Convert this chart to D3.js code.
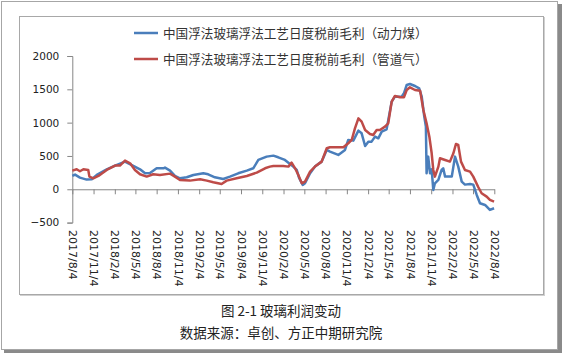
<!DOCTYPE html>
<html><head><meta charset="utf-8">
<script src="https://cdn.jsdelivr.net/npm/d3@7"></script>
<style>html,body{margin:0;padding:0;background:#fff;}svg{display:block;}</style>
</head><body>
<svg id="c" width="563" height="355"></svg>
<script>
const seriesNames = ["中国浮法玻璃浮法工艺日度税前毛利（动力煤）", "中国浮法玻璃浮法工艺日度税前毛利（管道气）"];
const yTicks = [-500, 0, 500, 1000, 1500, 2000];
const xTickLabels = ["2017/8/4","2017/11/4","2018/2/4","2018/5/4","2018/8/4","2018/11/4","2019/2/4","2019/5/4","2019/8/4","2019/11/4","2020/2/4","2020/5/4","2020/8/4","2020/11/4","2021/2/4","2021/5/4","2021/8/4","2021/11/4","2022/2/4","2022/5/4","2022/8/4"];
const captionTitle = "图 2-1 玻璃利润变动";
const captionSource = "数据来源：卓创、方正中期研究院";

// 动力煤 (blue)
const coalDates = ["2017-08-04","2017-08-16","2017-09-06","2017-10-05","2017-10-27","2017-11-18","2017-12-31","2018-02-05","2018-03-20","2018-04-25","2018-05-24","2018-06-15","2018-07-06","2018-08-04","2018-09-02","2018-09-09","2018-10-01","2018-10-22","2018-11-13","2018-12-12","2019-01-10","2019-02-22","2019-03-15","2019-04-13","2019-05-19","2019-06-17","2019-07-23","2019-08-29","2019-09-26","2019-10-18","2019-11-23","2019-12-22","2020-01-12","2020-02-10","2020-03-03","2020-03-17","2020-04-01","2020-04-12","2020-04-27","2020-05-07","2020-05-29","2020-06-19","2020-07-18","2020-08-09","2020-08-23","2020-09-28","2020-10-27","2020-11-10","2020-12-02","2020-12-24","2021-01-07","2021-01-22","2021-02-05","2021-02-19","2021-03-06","2021-03-20","2021-04-04","2021-04-25","2021-05-17","2021-05-31","2021-06-15","2021-06-29","2021-07-09","2021-07-21","2021-08-04","2021-08-26","2021-09-13","2021-09-24","2021-10-05","2021-10-12","2021-10-15","2021-10-22","2021-10-30","2021-11-06","2021-11-13","2021-11-20","2021-12-05","2021-12-19","2021-12-26","2022-01-03","2022-02-01","2022-02-15","2022-03-01","2022-03-16","2022-03-30","2022-04-21","2022-05-05","2022-05-20","2022-06-03","2022-06-25","2022-07-16","2022-08-03"];
const coalValues = [200,220,175,145,150,215,300,355,415,350,300,240,245,315,315,325,280,200,165,180,215,240,225,180,155,190,240,280,315,440,490,505,480,440,380,340,290,165,65,90,240,340,415,590,565,515,590,740,730,880,840,650,715,715,790,765,865,900,1315,1390,1390,1390,1440,1565,1580,1550,1515,1390,1090,940,240,490,240,300,-10,90,140,290,315,190,190,490,340,115,70,80,70,-85,-210,-235,-310,-285];

// 管道气 (red)
const gasDates = ["2017-08-04","2017-08-23","2017-09-06","2017-09-21","2017-10-12","2017-10-17","2017-11-03","2017-11-25","2017-12-31","2018-02-05","2018-02-26","2018-03-20","2018-04-11","2018-05-02","2018-05-24","2018-06-22","2018-07-20","2018-08-18","2018-10-01","2018-10-22","2018-11-13","2018-12-26","2019-02-08","2019-03-09","2019-04-06","2019-05-12","2019-06-03","2019-07-16","2019-08-29","2019-10-11","2019-11-16","2019-12-07","2019-12-22","2020-02-03","2020-02-25","2020-03-10","2020-03-25","2020-04-08","2020-04-23","2020-05-07","2020-05-29","2020-06-19","2020-07-18","2020-08-09","2020-08-23","2020-09-21","2020-10-20","2020-11-10","2020-11-25","2020-12-09","2020-12-24","2021-01-07","2021-01-22","2021-02-12","2021-02-26","2021-03-13","2021-03-27","2021-04-18","2021-05-02","2021-05-17","2021-05-31","2021-06-22","2021-07-09","2021-07-21","2021-08-04","2021-08-26","2021-09-17","2021-10-01","2021-10-15","2021-10-27","2021-11-06","2021-11-13","2021-11-20","2021-12-05","2021-12-12","2022-01-03","2022-01-24","2022-02-08","2022-02-19","2022-03-01","2022-03-13","2022-03-30","2022-04-21","2022-05-05","2022-05-27","2022-06-10","2022-07-02","2022-07-16","2022-08-03"];
const gasValues = [280,300,270,300,290,190,165,200,290,355,355,430,390,290,225,190,225,215,235,190,140,130,150,130,105,80,130,165,200,250,315,340,350,350,340,400,315,215,90,115,265,340,415,615,630,630,630,690,740,915,1065,1015,890,830,815,890,890,940,990,1315,1400,1380,1380,1490,1530,1490,1480,1190,990,790,540,290,190,340,465,440,415,540,680,665,415,290,265,190,30,-60,-110,-160,-185];

const parseD = d3.timeParse("%Y-%m-%d");
const parseT = d3.timeParse("%Y/%m/%d");
const coal = coalDates.map((d,i)=>({date:parseD(d), v:coalValues[i]}));
const gas = gasDates.map((d,i)=>({date:parseD(d), v:gasValues[i]}));
const tickDates = xTickLabels.map(s=>parseT(s));

const svg = d3.select("#c");
// outer frame with shadow
svg.append("rect").attr("x",4).attr("y",4).attr("width",558).attr("height",349).attr("fill","#8a8a8a");
svg.append("rect").attr("x",1.5).attr("y",1.5).attr("width",556).attr("height",348).attr("fill","#fff").attr("stroke","#a6a6a6");
// inner chart frame
svg.append("rect").attr("x",20.5).attr("y",17.5).attr("width",524).attr("height",278).attr("fill","none").attr("stroke","#d0d0d0").attr("stroke-width",1);
svg.append("rect").attr("x",19.5).attr("y",16.5).attr("width",524).attr("height",278).attr("fill","#fff").attr("stroke","#a8a8a8");

const x = d3.scaleTime().domain([tickDates[0], tickDates[tickDates.length-1]]).range([72.3, 494.3]);
const y = d3.scaleLinear().domain([-500, 2000]).range([222.6, 56]);

const axisColor = "#868686";
const gy = svg.append("g").attr("transform","translate(72.3,0)")
  .call(d3.axisLeft(y).tickValues(yTicks).tickSize(5).tickPadding(8).tickFormat(d3.format("d")));
gy.select(".domain").attr("stroke",axisColor);
gy.selectAll(".tick line").attr("stroke",axisColor);
gy.selectAll("text").attr("fill","#222").style("font-family","'DejaVu Sans', sans-serif").style("font-size","10.5px");

const gx = svg.append("g").attr("transform",`translate(0,${y(0)})`)
  .call(d3.axisBottom(x).tickValues(tickDates).tickSize(5).tickSizeOuter(0).tickFormat((d,i)=>xTickLabels[i]));
gx.select(".domain").attr("stroke",axisColor);
gx.selectAll(".tick line").attr("stroke",axisColor);
gx.selectAll("text")
  .attr("y",0).attr("x",0).attr("dy","0.35em")
  .attr("text-anchor","start")
  .attr("transform",`translate(0,${230 - y(0)}) rotate(90)`)
  .attr("fill","#222").style("font-family","'DejaVu Sans', sans-serif").style("font-size","11px");

const line = d3.line().x(d=>x(d.date)).y(d=>y(d.v));
const colors = ["#4a7ebb", "#be4b48"];
svg.append("path").datum(coal).attr("d",line).attr("fill","none").attr("stroke",colors[0]).attr("stroke-width",2.5).attr("stroke-linejoin","round");
svg.append("path").datum(gas).attr("d",line).attr("fill","none").attr("stroke",colors[1]).attr("stroke-width",2.5).attr("stroke-linejoin","round");

// legend
const leg = svg.append("g");
[0,1].forEach(i=>{
  const ly = 33 + i*26;
  leg.append("line").attr("x1",134).attr("x2",158).attr("y1",ly).attr("y2",ly).attr("stroke",colors[i]).attr("stroke-width",2.5);
  leg.append("text").attr("x",163).attr("y",ly).attr("dy","0.36em").text(seriesNames[i])
    .attr("fill","#333").style("font-family","'Noto Sans CJK SC', sans-serif").style("font-size","12.6px");
});

// captions
svg.append("text").attr("x",281).attr("y",311).attr("dy","0.36em").attr("text-anchor","middle").text(captionTitle)
  .attr("fill","#222").style("font-family","'Noto Sans CJK SC', sans-serif").style("font-size","13.5px");
svg.append("text").attr("x",281).attr("y",333).attr("dy","0.36em").attr("text-anchor","middle").text(captionSource)
  .attr("fill","#222").style("font-family","'Noto Sans CJK SC', sans-serif").style("font-size","13.5px");
</script>
</body></html>
